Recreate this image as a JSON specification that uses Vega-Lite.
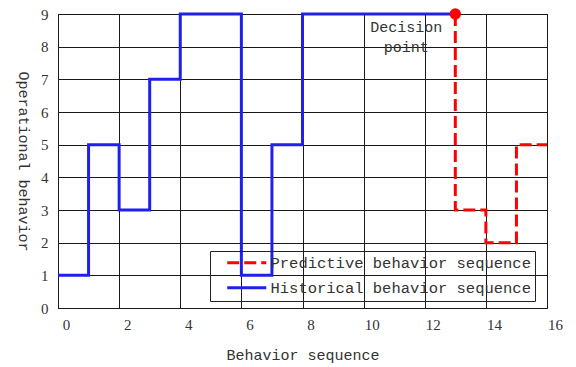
{
  "$schema": "https://vega.github.io/schema/vega-lite/v6.json",
  "width": 489,
  "height": 294,
  "autosize": "none",
  "padding": {"left": 58, "top": 14, "right": 29, "bottom": 59},
  "config": {
    "view": {"stroke": "black", "strokeDash": [5, 3], "strokeWidth": 1},
    "font": "Liberation Mono"
  },
  "datasets": {
    "series": [
      {"i": 1, "x": 0, "y": 1, "series": "Historical behavior sequence"},
      {"i": 2, "x": 1, "y": 5, "series": "Historical behavior sequence"},
      {"i": 3, "x": 2, "y": 3, "series": "Historical behavior sequence"},
      {"i": 4, "x": 3, "y": 7, "series": "Historical behavior sequence"},
      {"i": 5, "x": 4, "y": 9, "series": "Historical behavior sequence"},
      {"i": 6, "x": 6, "y": 1, "series": "Historical behavior sequence"},
      {"i": 7, "x": 7, "y": 5, "series": "Historical behavior sequence"},
      {"i": 8, "x": 8, "y": 9, "series": "Historical behavior sequence"},
      {"i": 9, "x": 13, "y": 9, "series": "Historical behavior sequence"},
      {"i": 1, "x": 13, "y": 9, "series": "Predictive behavior sequence"},
      {"i": 2, "x": 13, "y": 3, "series": "Predictive behavior sequence"},
      {"i": 3, "x": 14, "y": 2, "series": "Predictive behavior sequence"},
      {"i": 4, "x": 15, "y": 5, "series": "Predictive behavior sequence"},
      {"i": 5, "x": 16, "y": 5, "series": "Predictive behavior sequence"}
    ],
    "decision": [
      {"x": 13, "y": 9, "label": "Decision\npoint"}
    ]
  },
  "encoding": {
    "x": {
      "field": "x", "type": "quantitative",
      "scale": {"domain": [0, 16], "nice": false, "zero": false},
      "axis": {
        "values": [0, 2, 4, 6, 8, 10, 12, 14, 16],
        "grid": true, "gridColor": "#1a1a1a", "gridWidth": 1,
        "domainColor": "#1a1a1a", "tickSize": 0,
        "labelOffset": 8, "labelPadding": 9, "labelOverlap": false, "labelFlush": false,
        "labelFont": "Liberation Serif", "labelFontSize": 15, "labelColor": "#333",
        "title": "Behavior sequence", "titleFont": "Liberation Mono",
        "titleFontSize": 15, "titleFontWeight": "normal", "titleColor": "#333",
        "titlePadding": 15
      }
    },
    "y": {
      "field": "y", "type": "quantitative",
      "scale": {"domain": [0, 9], "nice": false},
      "axis": {
        "values": [0, 1, 2, 3, 4, 5, 6, 7, 8, 9],
        "grid": true, "gridColor": "#1a1a1a", "gridWidth": 1,
        "domainColor": "#1a1a1a", "tickSize": 0,
        "labelPadding": 10, "labelOverlap": false, "labelFlush": false,
        "labelFont": "Liberation Serif", "labelFontSize": 15, "labelColor": "#333",
        "title": "Operational behavior", "titleFont": "Liberation Mono",
        "titleFontSize": 15, "titleFontWeight": "normal", "titleColor": "#333",
        "titleAngle": 90, "titleBaseline": "top", "titlePadding": 10
      }
    }
  },
  "layer": [
    {
      "data": {"name": "series"},
      "mark": {"type": "line", "interpolate": "step-after", "strokeWidth": 3, "clip": false},
      "encoding": {
        "order": {"field": "i", "type": "quantitative"},
        "color": {
          "field": "series", "type": "nominal",
          "scale": {
            "domain": ["Predictive behavior sequence", "Historical behavior sequence"],
            "range": ["#ff0000", "#2020ee"]
          },
          "legend": {
            "orient": "none", "legendX": 152, "legendY": 237,
            "title": null, "strokeColor": "#222", "fillColor": null,
            "padding": 4, "symbolType": "M-3.9,0H3.9", "symbolSize": 100,
            "symbolStrokeWidth": 3, "symbolOffset": 25, "rowPadding": 8,
            "labelFont": "Liberation Mono", "labelFontSize": 15.5, "labelColor": "#333",
            "labelOffset": 16, "labelLimit": 500
          }
        },
        "strokeDash": {
          "field": "series", "type": "nominal",
          "scale": {
            "domain": ["Predictive behavior sequence", "Historical behavior sequence"],
            "range": [[12, 5], [1, 0]]
          },
          "legend": {
            "orient": "none", "legendX": 152, "legendY": 237,
            "title": null, "strokeColor": "#222", "fillColor": null,
            "padding": 4, "symbolType": "M-3.9,0H3.9", "symbolSize": 100,
            "symbolStrokeWidth": 3, "symbolOffset": 25, "rowPadding": 8,
            "labelFont": "Liberation Mono", "labelFontSize": 15.5, "labelColor": "#333",
            "labelOffset": 16, "labelLimit": 500
          }
        }
      }
    },
    {
      "data": {"name": "decision"},
      "mark": {"type": "point", "filled": true, "color": "#ff0000", "opacity": 1, "size": 130, "clip": false}
    },
    {
      "data": {"name": "decision"},
      "mark": {"type": "text", "lineBreak": "\n", "baseline": "top", "align": "center", "dx": -49, "dy": 6, "fontSize": 15, "lineHeight": 20, "font": "Liberation Mono", "color": "#333"},
      "encoding": {
        "text": {"field": "label"}
      }
    }
  ]
}
